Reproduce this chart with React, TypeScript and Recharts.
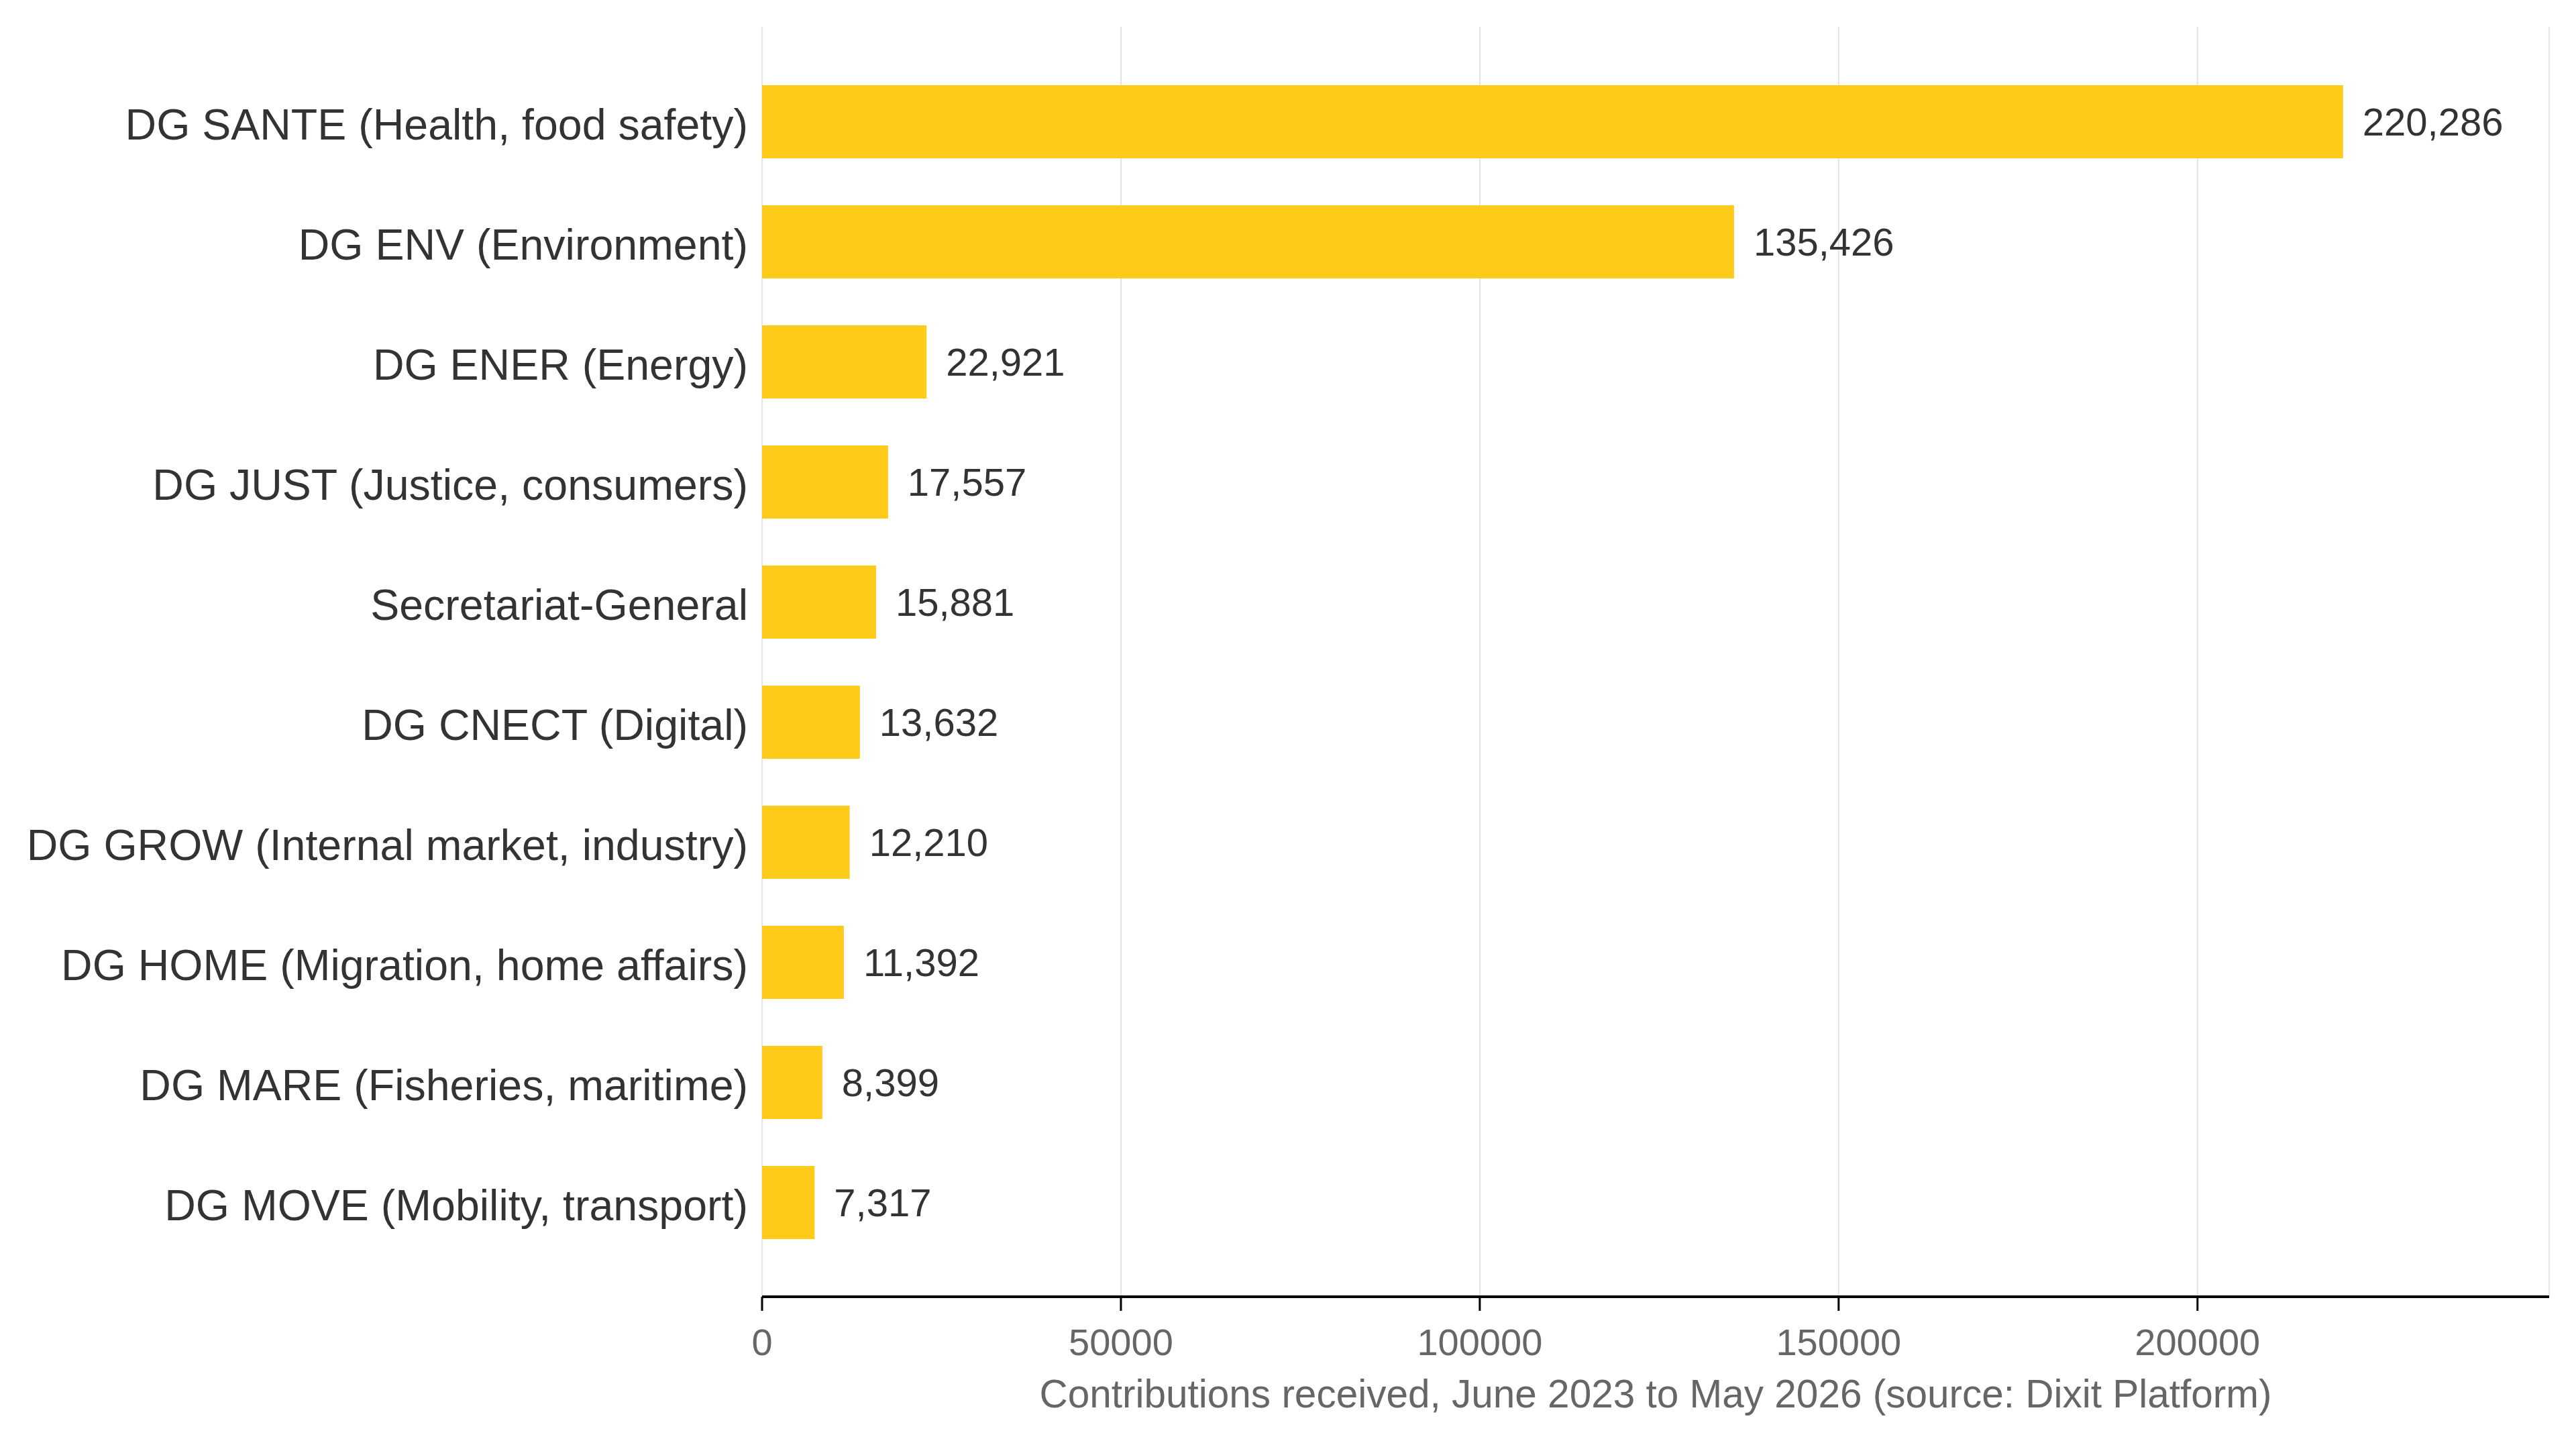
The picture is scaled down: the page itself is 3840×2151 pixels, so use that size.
import { Bar, BarChart, CartesianGrid, Label, LabelList, XAxis, YAxis } from 'recharts';

// Directorates-General and the number of contributions each received
const departments = [
    'DG SANTE (Health, food safety)',
    'DG ENV (Environment)',
    'DG ENER (Energy)',
    'DG JUST (Justice, consumers)',
    'Secretariat-General',
    'DG CNECT (Digital)',
    'DG GROW (Internal market, industry)',
    'DG HOME (Migration, home affairs)',
    'DG MARE (Fisheries, maritime)',
    'DG MOVE (Mobility, transport)',
];
const contributions = [220286, 135426, 22921, 17557, 15881, 13632, 12210, 11392, 8399, 7317];
const xTicks = [0, 50000, 100000, 150000, 200000];
const xMax = 249000;

const data = departments.map((name, i) => ({ name, value: contributions[i] }));

const FONT = '"Liberation Sans", Arial, sans-serif';
const BAR_COLOR = '#FECB1A';

const App = () => {
    return (
        <BarChart
            width={3824}
            height={2135}
            data={data}
            layout="vertical"
            margin={{ top: 32, right: 32, left: 0, bottom: 30 }}
            style={{ fontFamily: FONT }}
        >
            <CartesianGrid horizontal={false} stroke="#e3e3e3" strokeWidth={2} />
            <XAxis
                type="number"
                domain={[0, xMax]}
                ticks={xTicks}
                allowDataOverflow
                height={180}
                stroke="#000"
                axisLine={{ stroke: '#000', strokeWidth: 4 }}
                tickLine={{ stroke: '#000', strokeWidth: 3 }}
                tickSize={21}
                tickMargin={26}
                tick={{ fill: '#666', fontSize: 56, fontFamily: FONT }}
            >
                <Label
                    value="Contributions received, June 2023 to May 2026 (source: Dixit Platform)"
                    position="insideBottom"
                    offset={15}
                    fill="#666"
                    fontSize={58.5}
                    fontFamily={FONT}
                />
            </XAxis>
            <YAxis
                type="category"
                dataKey="name"
                width={1136 - 8}
                axisLine={false}
                tickLine={false}
                tickSize={0}
                tickMargin={21}
                padding={{ top: 52, bottom: 51 }}
                interval={0}
                tick={{ fill: '#333', fontSize: 64.5, fontFamily: FONT, dy: 4 }}
            />
            <Bar dataKey="value" fill={BAR_COLOR} barSize={109} isAnimationActive={false}>
                <LabelList
                    dataKey="value"
                    position="right"
                    offset={29}
                    fill="#333"
                    fontSize={58}
                    fontFamily={FONT}
                    formatter={(v: any) => Number(v).toLocaleString('en-US')}
                />
            </Bar>
        </BarChart>
    );
};

export default App;
